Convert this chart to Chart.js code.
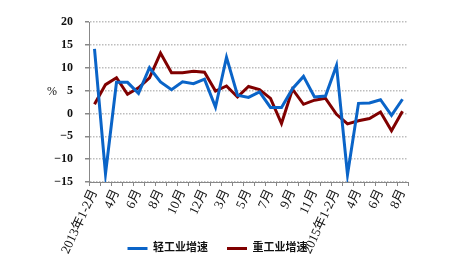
<!DOCTYPE html>
<html>
<head>
<meta charset="utf-8">
<script src="https://cdn.jsdelivr.net/npm/chart.js@4/dist/chart.umd.min.js"></script>
<style>
  html, body { margin: 0; padding: 0; background: #fff; }
  #wrap { width: 449px; height: 274px; }
</style>
</head>
<body>
<div id="wrap"><canvas id="chart"></canvas></div>
<script>
// --- Data ---
const months = [
  '2013年1-2月', '3月', '4月', '5月', '6月', '7月', '8月', '9月', '10月', '11月', '12月',
  '2014年1-2月', '3月', '4月', '5月', '6月', '7月', '8月', '9月', '10月', '11月', '12月',
  '2015年1-2月', '3月', '4月', '5月', '6月', '7月', '8月'
];
// only every other month gets a label on the axis
const shownIdx = [0, 2, 4, 6, 8, 10, 12, 14, 16, 18, 20, 22, 24, 26, 28];

const lightGrowth = [14.1, -13.2, 6.8, 6.8, 4.4, 10.0, 6.9, 5.2, 6.9, 6.5, 7.5, 1.4, 12.3, 4.0, 3.5, 4.7,
  1.3, 1.3, 5.4, 8.1, 3.6, 3.8, 10.5, -13.4, 2.2, 2.3, 3.0, -0.4, 3.1];
const heavyGrowth = [2.0, 6.3, 7.8, 4.2, 5.6, 7.8, 13.2, 8.9, 8.9, 9.2, 9.0, 4.9, 6.0, 3.6, 5.9, 5.2,
  3.3, -2.2, 5.3, 2.0, 2.9, 3.3, -0.2, -2.3, -1.6, -1.1, 0.3, -3.8, 0.5];

const yTicks = [20, 15, 10, 5, 0, -5, -10, -15];

const SERIF = '"Liberation Serif", "Noto Sans CJK SC", serif';

// "%" unit sits beside the 5 tick
const unitLabel = {
  id: 'unitLabel',
  afterDraw(chart) {
    const y = chart.scales.y;
    const ctx = chart.ctx;
    ctx.save();
    ctx.font = '12px ' + SERIF;
    ctx.fillStyle = '#111';
    ctx.textAlign = 'center';
    ctx.textBaseline = 'middle';
    ctx.fillText('%', 52, y.getPixelForValue(5) + 1);
    ctx.restore();
  }
};

// legend sits beside the rotated month labels, not under them
const legendShift = {
  id: 'legendShift',
  afterLayout(chart) {
    const lg = chart.legend;
    lg.top -= 34;
    lg.bottom = chart.height;
    lg.left = -7;
    lg.right = chart.width - 7;
  }
};

new Chart(document.getElementById('chart'), {
  type: 'line',
  data: {
    labels: months,
    datasets: [
      { label: '轻工业增速', data: lightGrowth, borderColor: '#0a64c8', backgroundColor: '#0a64c8',
        borderWidth: 3, pointRadius: 0, tension: 0 },
      { label: '重工业增速', data: heavyGrowth, borderColor: '#800000', backgroundColor: '#800000',
        borderWidth: 3, pointRadius: 0, tension: 0 }
    ]
  },
  options: {
    responsive: true,
    maintainAspectRatio: false,
    animation: false,
    layout: { padding: { top: 22, right: 41, left: 0, bottom: 0 } },
    plugins: {
      tooltip: { enabled: false },
      legend: {
        position: 'bottom',
        maxHeight: 16,
        labels: {
          usePointStyle: true,
          pointStyle: 'line',
          pointStyleWidth: 20,
          padding: 19,
          color: '#111',
          font: { family: SERIF, size: 11, weight: 'bold' }
        }
      }
    },
    scales: {
      x: {
        offset: true,
        afterFit: s => { s.height = 76; },
        grid: { display: true, drawOnChartArea: false, offset: true, tickLength: 4, color: '#888' },
        border: { display: true, color: '#888', width: 1 },
        ticks: {
          autoSkip: false,
          minRotation: 65,
          maxRotation: 65,
          padding: 1,
          color: '#111',
          font: { family: SERIF, size: 13 },
          callback: (v, i) => shownIdx.includes(i) ? months[i] : ''
        }
      },
      y: {
        min: -15,
        max: 20,
        afterFit: s => { s.width = 89; },
        afterBuildTicks: s => { s.ticks = yTicks.map(v => ({ value: v })); },
        grid: { color: '#bdbdbd', tickLength: 4, tickColor: '#888', lineWidth: 1.5 },
        border: { display: true, color: '#888', width: 1, dash: [1.5, 1.5] },
        ticks: {
          padding: 12,
          color: '#111',
          font: { family: SERIF, size: 12, weight: 'bold' },
          callback: v => v < 0 ? '\u2212' + Math.abs(v) : String(v)
        }
      }
    }
  },
  plugins: [unitLabel, legendShift]
});
</script>
</body>
</html>
